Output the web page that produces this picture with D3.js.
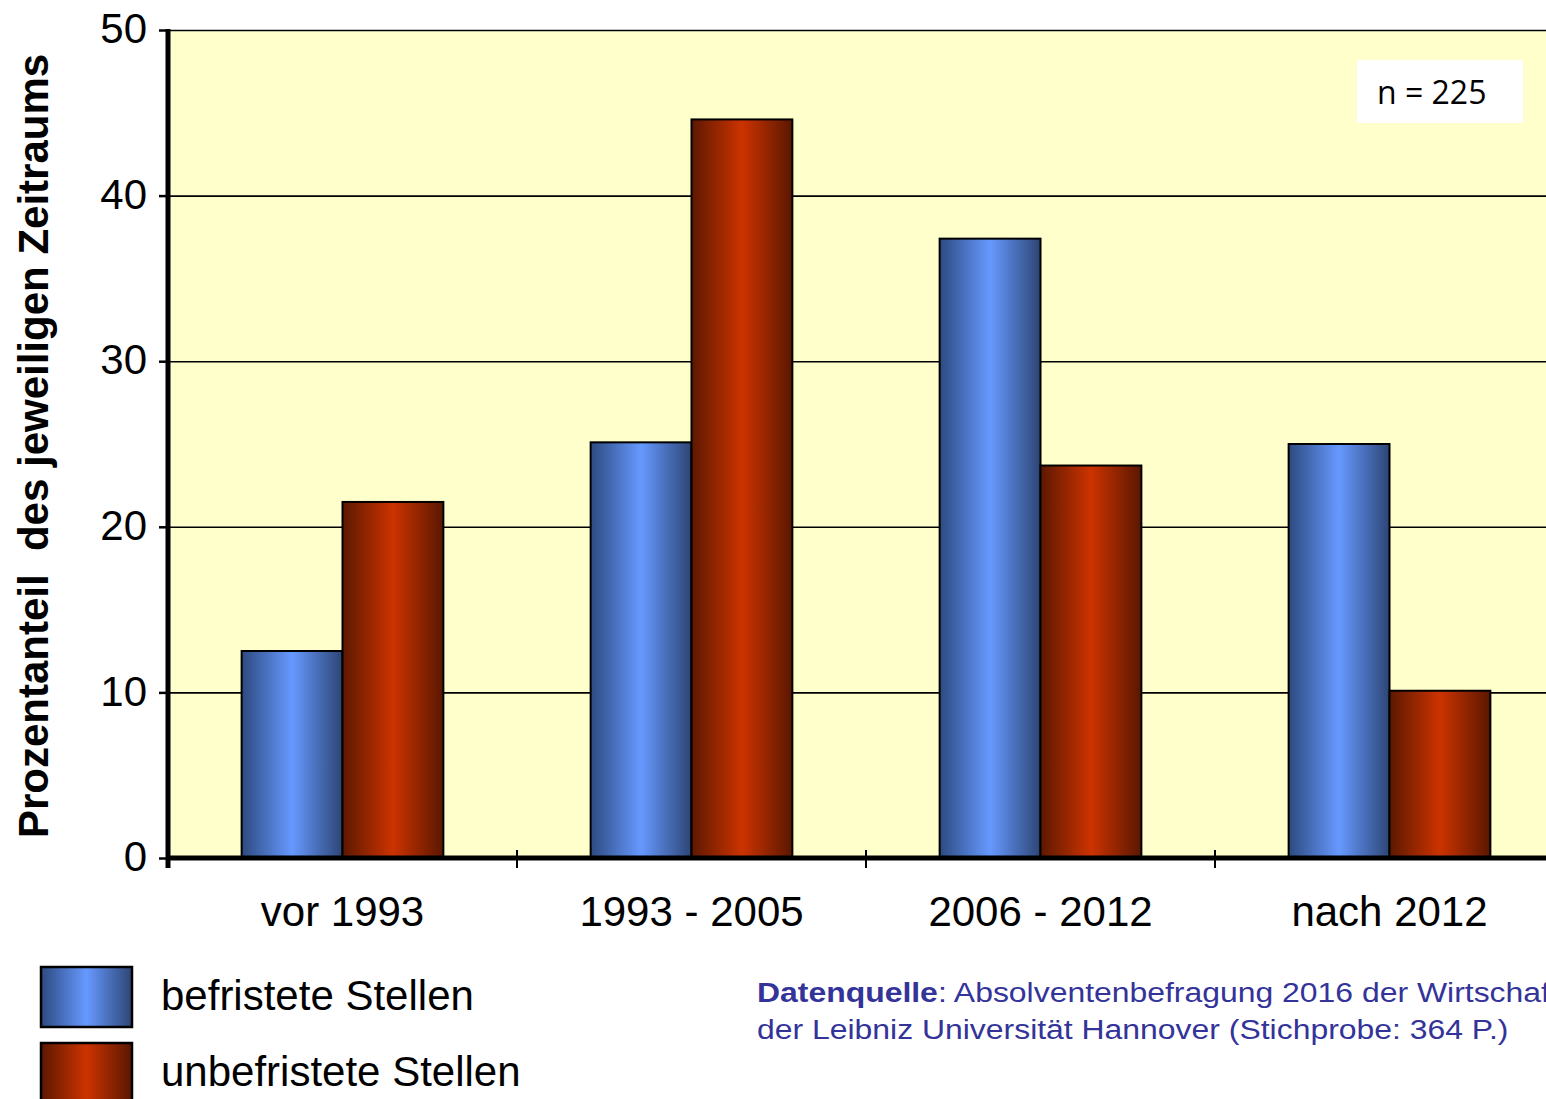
<html>
<head>
<meta charset="utf-8">
<script src="https://d3js.org/d3.v7.min.js"></script>
<style>
body { margin: 0; background: #fff; }
svg { display: block; }
text { font-family: "Liberation Sans", Arial, sans-serif; fill: #000; }
.axis text { font-size: 42px; }
.grid line { stroke: #000; stroke-width: 1.6; }
.grid path { display: none; }
</style>
</head>
<body>
<svg width="1546" height="1099"></svg>
<script>

var categories = ["vor 1993", "1993 - 2005", "2006 - 2012", "nach 2012"];
var seriesNames = ["befristete Stellen", "unbefristete Stellen"];
var befristet = [12.5, 25.1, 37.4, 25.0];
var unbefristet = [21.5, 44.6, 23.7, 10.1];
var yTicks = [0, 10, 20, 30, 40, 50];

var data = categories.map(function(c, i) {
    return {cat: c, values: [{key: "b", value: befristet[i]}, {key: "u", value: unbefristet[i]}]};
});

var svg = d3.select("svg");
var plotLeft = 168, plotTop = 30, plotBottom = 858, plotRight = 1564;

var defs = svg.append("defs");
function grad(id, dark1, light, dark2) {
    var g = defs.append("linearGradient").attr("id", id)
        .attr("x1", "0%").attr("x2", "100%").attr("y1", "0%").attr("y2", "0%");
    g.append("stop").attr("offset", "0%").attr("stop-color", dark1);
    g.append("stop").attr("offset", "50%").attr("stop-color", light);
    g.append("stop").attr("offset", "100%").attr("stop-color", dark2);
}
grad("gradB", "#2d4a80", "#6699ff", "#2d4575");
grad("gradU", "#5c1800", "#cc3300", "#5a1700");
var fills = {b: "url(#gradB)", u: "url(#gradU)"};

var x0 = d3.scaleBand().domain(categories).range([plotLeft, plotRight]).paddingInner(0);
var x1 = d3.scaleBand().domain(["b", "u"]).range([0, x0.bandwidth()])
    .paddingInner(0).paddingOuter(0.73);
var y = d3.scaleLinear().domain([0, 50]).range([plotBottom, plotTop]);

// plot background
svg.append("rect").attr("x", plotLeft).attr("y", plotTop)
    .attr("width", plotRight - plotLeft).attr("height", plotBottom - plotTop)
    .attr("fill", "#ffffcc");

// grid lines
svg.append("g").attr("class", "grid")
    .attr("transform", "translate(" + plotLeft + ",0)")
    .call(d3.axisLeft(y).tickValues(yTicks.slice(1)).tickSize(-(plotRight - plotLeft)).tickFormat(""));

// n box
svg.append("rect").attr("x", 1357).attr("y", 60).attr("width", 166).attr("height", 63).attr("fill", "#fff");
svg.append("text").attr("x", 1377).attr("y", 104).text("n = 225")
    .style("font-family", "'Open Sans', sans-serif").style("font-size", "32px");

// bars
var groups = svg.selectAll(".layer").data(data).enter().append("g")
    .attr("class", "layer")
    .attr("transform", d => "translate(" + x0(d.cat) + ",0)");

groups.selectAll("rect").data(d => d.values).enter().append("rect")
    .attr("x", d => x1(d.key))
    .attr("y", d => y(d.value))
    .attr("width", x1.bandwidth())
    .attr("height", d => y(0) - y(d.value))
    .attr("fill", d => fills[d.key])
    .attr("stroke", "#000")
    .attr("stroke-width", 2);

// y axis
var yAxis = svg.append("g").attr("class", "axis")
    .attr("transform", "translate(" + plotLeft + ",0)")
    .call(d3.axisLeft(y).tickValues(yTicks).tickSize(9).tickPadding(12));
yAxis.select(".domain").attr("stroke-width", 5).attr("d", "M0," + (plotTop - 1) + "V" + (plotBottom + 10));
yAxis.selectAll(".tick line").attr("stroke-width", 2.5);
yAxis.selectAll(".tick text").attr("dy", "0.3em");

// x axis
var xAxis = svg.append("g").attr("class", "axis")
    .attr("transform", "translate(0," + plotBottom + ")")
    .call(d3.axisBottom(x0).tickSize(0).tickPadding(38));
xAxis.select(".domain").attr("stroke-width", 5).attr("d", "M" + plotLeft + ",0H" + plotRight);
xAxis.selectAll(".tick text").attr("dy", "0.71em");
svg.append("g").selectAll("line").data(categories.slice(1)).enter().append("line")
    .attr("x1", d => x0(d)).attr("x2", d => x0(d))
    .attr("y1", plotBottom - 8).attr("y2", plotBottom + 10)
    .attr("stroke", "#000").attr("stroke-width", 2);

// y title
svg.append("text")
    .attr("transform", "translate(48,446) rotate(-90)")
    .attr("text-anchor", "middle")
    .style("font-size", "42px").style("font-weight", "bold")
    .style("white-space", "pre")
    .text("Prozentanteil  des jeweiligen Zeitraums");

// legend
var legend = svg.append("g").selectAll("g").data(seriesNames).enter().append("g")
    .attr("transform", (d, i) => "translate(41," + (967 + i * 76) + ")");
legend.append("rect").attr("width", 91).attr("height", 60)
    .attr("fill", (d, i) => i === 0 ? fills.b : fills.u)
    .attr("stroke", "#000").attr("stroke-width", 2.5);
legend.append("text").attr("x", 120).attr("y", 43).style("font-size", "42px").text(d => d);

// source
var srcG = svg.append("g").attr("transform", "translate(757,0) scale(1.14,1)");
var src = srcG.append("text").attr("x", 0).attr("y", 1002)
    .style("font-size", "28px").style("fill", "#333399");
src.append("tspan").style("font-weight", "bold").style("fill", "#333399").text("Datenquelle");
src.append("tspan").style("fill", "#333399").text(": Absolventenbefragung 2016 der Wirtschaf");
srcG.append("text").attr("x", 0).attr("y", 1039)
    .style("font-size", "28px").style("fill", "#333399")
    .text("der Leibniz Universität Hannover (Stichprobe: 364 P.)");

</script>
</body>
</html>
